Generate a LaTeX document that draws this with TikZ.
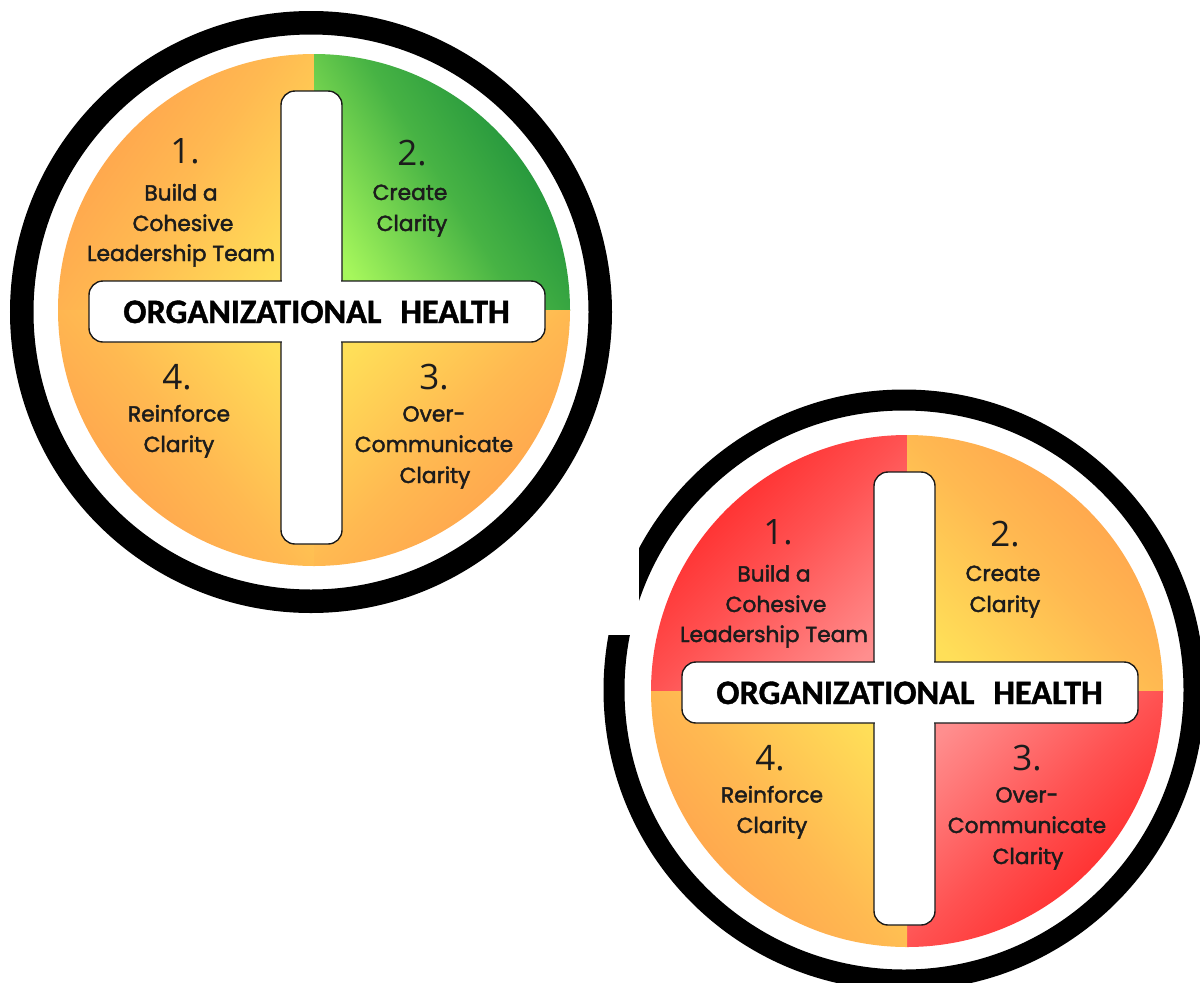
\documentclass[tikz,border=0pt]{standalone}
\usepackage{fontspec}
\newfontfamily\labelfont{Poppins}[FakeBold=2]
\newfontfamily\numfont{Open Sans}
\newfontfamily\titlefont{Carlito}[BoldFeatures={FakeBold=1.2}]

\definecolor{qorange}{HTML}{FF9E4C}
\definecolor{qmid}{HTML}{FFB951}
\definecolor{qyellow}{HTML}{FFDF58}
\definecolor{gdark}{HTML}{168A3A}
\definecolor{gmid}{HTML}{47B344}
\definecolor{glight}{HTML}{A6F75C}
\definecolor{rdark}{HTML}{FF1F1F}
\definecolor{rmid}{HTML}{FF5252}
\definecolor{rlight}{HTML}{FF8E8E}
\definecolor{ink}{HTML}{1C1C1C}
\definecolor{barline}{HTML}{1A1A1A}

\tikzset{
  lbl/.style={font=\labelfont\fontsize{21.8}{25}\selectfont, text=ink, anchor=base, inner sep=0pt},
  num/.style={font=\numfont\fontsize{35}{40}\selectfont, text=ink, anchor=base, inner sep=0pt},
  ttl/.style={font=\titlefont\bfseries\fontsize{34.3}{40}\selectfont, text=black, anchor=base, inner sep=0pt},
  bar/.style={rounded corners=14pt, draw=barline, line width=1.4pt, fill=white},
  barfill/.style={rounded corners=13pt, fill=white},
  % quadrant shadings
  orTL/.style={top color=qorange, bottom color=qyellow, middle color=qmid, shading angle=55},
  orTR/.style={top color=qorange, bottom color=qyellow, middle color=qmid, shading angle=-45},
  orBR/.style={top color=qorange, bottom color=qyellow, middle color=qmid, shading angle=225},
  orBL/.style={top color=qorange, bottom color=qyellow, middle color=qmid, shading angle=130},
  grTR/.style={top color=gdark, bottom color=glight, middle color=gmid, shading angle=-58},
  rdTL/.style={top color=rdark, bottom color=rlight, middle color=rmid, shading angle=45},
  rdBR/.style={top color=rdark, bottom color=rlight, middle color=rmid, shading angle=225},
}

% #1 name prefix, #2 shift, #3..#6 quadrant styles (TL, TR, BR, BL)
\newcommand{\orgwheel}[6]{%
\begin{scope}[shift={#2}, name prefix=#1-]
  \coordinate (c) at (314,310);
  \begin{scope}
    \clip (c) circle[radius=256];
    \shade[#3] (c) rectangle ++(-257,-257);
    \shade[#4] (c) rectangle ++(257,-257);
    \shade[#5] (c) rectangle ++(257,257);
    \shade[#6] (c) rectangle ++(-257,257);
  \end{scope}
  % the white cross
  \path[bar] (281,91) rectangle (342,544);
  \path[bar] (89,281) rectangle (545,342);
  \fill[barfill] (282.2,92.2) rectangle (340.8,542.8);
  \fill[barfill] (90.2,282.2) rectangle (543.8,340.8);
  % quadrant texts
  \node[num] (n1) at (185,163.5) {1.};
  \node[lbl] (l1a) at (181,200.5) {Build a};
  \node[lbl] (l1b) at (183,231) {Cohesive};
  \node[lbl] (l1c) at (181,261) {Leadership Team};
  \node[num] (n2) at (412,165) {2.};
  \node[lbl] (l2a) at (410,200) {Create};
  \node[lbl] (l2b) at (412,231) {Clarity};
  \node[num] (n3) at (434,389) {3.};
  \node[lbl] (l3a) at (434,421.5) {Over-};
  \node[lbl] (l3b) at (434,452) {Communicate};
  \node[lbl] (l3c) at (435,483) {Clarity};
  \node[num] (n4) at (177,389) {4.};
  \node[lbl] (l4a) at (179,421.5) {Reinforce};
  \node[lbl] (l4b) at (179,452) {Clarity};
  \node[ttl] (title) at (316.5,323) {ORGANIZATIONAL\hspace{0.55em}HEALTH};
\end{scope}}

\begin{document}
\begin{tikzpicture}[x=1pt, y=-1pt]
  \useasboundingbox (0,0) rectangle (1200,983);
  \clip (0,0) rectangle (1200,983);
  \fill[white] (0,0) rectangle (1200,983);

  % upper wheel
  \draw[line width=23.5pt] (311,312) circle[radius=289.25];
  \orgwheel{top}{(0,0)}{orTL}{grTR}{orBR}{orBL}

  % lower wheel, its ring notched on the left
  \draw[line width=21pt] (904,690) circle[radius=290];
  \fill[white] (586,545) rectangle (639,635);
  \orgwheel{low}{(593,381)}{rdTL}{orTR}{rdBR}{orBL}
\end{tikzpicture}
\end{document}
